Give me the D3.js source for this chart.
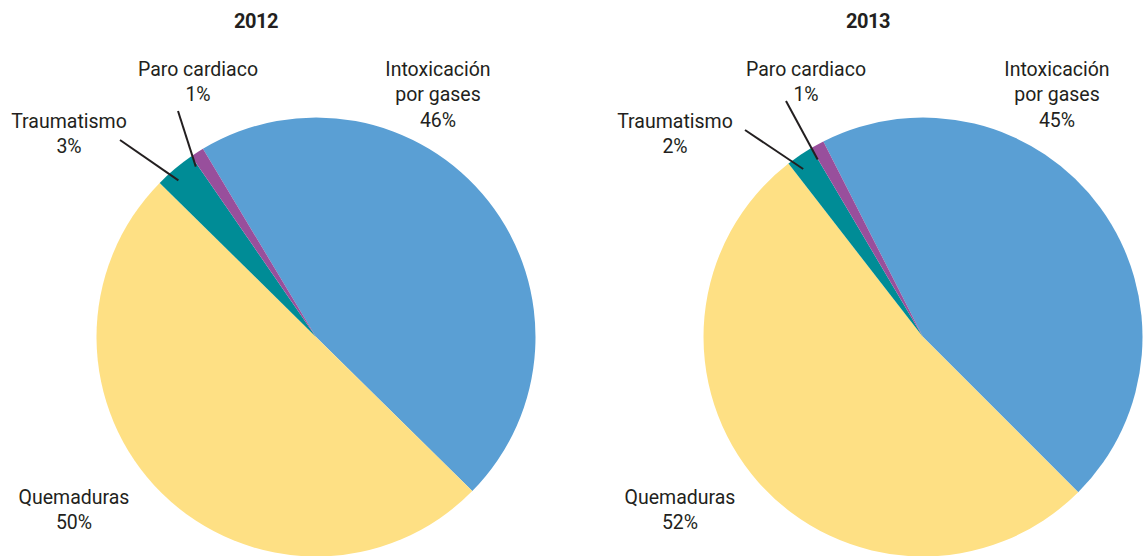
<!DOCTYPE html>
<html>
<head>
<meta charset="utf-8">
<script src="https://cdn.jsdelivr.net/npm/d3@7"></script>
<style>
  body { margin: 0; background: #fff; }
  svg text { font-family: Roboto, "Noto Sans", sans-serif; fill: #231f20; }
</style>
</head>
<body>
<div id="chart"></div>
<script>
// Data
const categories = ["Intoxicación por gases", "Quemaduras", "Traumatismo", "Paro cardiaco"];
const years = ["2012", "2013"];
const values2012 = [46, 50, 3, 1];
const values2013 = [45, 52, 2, 1];
const colors = ["#5a9fd4", "#fee084", "#008c96", "#984f9c"];

// Layout per pie (start angle in degrees, clockwise from 12 o'clock)
const pies = [
  {
    year: years[0], values: values2012, cx: 316, cy: 337, r: 219.5, start: -31, titleX: 256,
    labels: [
      { i: 0, x: 438, y: 76, lines: ["Intoxicación", "por gases"] },
      { i: 1, x: 74, y: 504, lines: ["Quemaduras"] },
      { i: 2, x: 69, y: 128, lines: ["Traumatismo"], leader: [120, 140], da: -1.3, rr: 0.95 },
      { i: 3, x: 198, y: 76, lines: ["Paro cardiaco"], leader: [178, 111], da: -2.4, rr: 0.95 }
    ]
  },
  {
    year: years[1], values: values2013, cx: 923, cy: 337, r: 219.5, start: -27, titleX: 868,
    labels: [
      { i: 0, x: 1057, y: 76, lines: ["Intoxicación", "por gases"] },
      { i: 1, x: 680, y: 504, lines: ["Quemaduras"] },
      { i: 2, x: 675, y: 128, lines: ["Traumatismo"], leader: [745, 130], da: -1.3, rr: 0.94 },
      { i: 3, x: 806, y: 76, lines: ["Paro cardiaco"], leader: [786, 101], da: -1.9, rr: 0.94 }
    ]
  }
];

const width = 1144, height = 556;
const svg = d3.select("#chart").append("svg")
  .attr("width", width).attr("height", height);

const rad = d => d * Math.PI / 180;
const lineH = 25.3;

pies.forEach(p => {
  const pie = d3.pie().sort(null)
    .startAngle(rad(p.start)).endAngle(rad(p.start) + 2 * Math.PI);
  const arcs = pie(p.values);
  const arc = d3.arc().innerRadius(0).outerRadius(p.r);

  const g = svg.append("g").attr("transform", `translate(${p.cx},${p.cy})`);
  g.selectAll("path").data(arcs).enter().append("path")
    .attr("d", arc)
    .attr("fill", (d, i) => colors[i]);

  // Title
  svg.append("text")
    .attr("x", p.titleX).attr("y", 28)
    .attr("text-anchor", "middle")
    .attr("font-size", 20).attr("font-weight", "bold")
    .attr("letter-spacing", -0.5)
    .text(p.year);

  // Labels
  p.labels.forEach(l => {
    const t = svg.append("text")
      .attr("text-anchor", "middle")
      .attr("font-size", 19.5);
    const lines = l.lines.concat([p.values[l.i] + "%"]);
    lines.forEach((s, k) => {
      t.append("tspan").attr("x", l.x).attr("y", l.y + k * lineH).text(s);
    });
    if (l.leader) {
      // leader ends inside its slice, near the rim
      const a = arcs[l.i];
      const mid = (a.startAngle + a.endAngle) / 2 + rad(l.da);
      const rr = p.r * l.rr;
      svg.append("line")
        .attr("x1", l.leader[0]).attr("y1", l.leader[1])
        .attr("x2", p.cx + rr * Math.sin(mid)).attr("y2", p.cy - rr * Math.cos(mid))
        .attr("stroke", "#231f20").attr("stroke-width", 2);
    }
  });
});
</script>
</body>
</html>
